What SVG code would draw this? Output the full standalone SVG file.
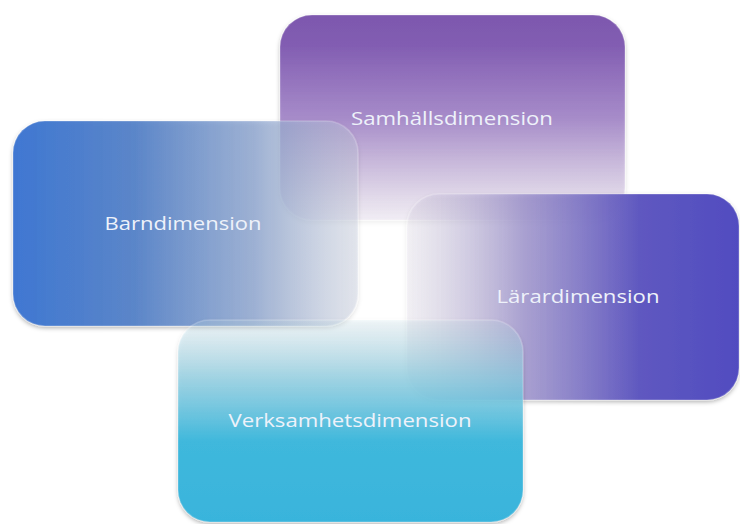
<svg xmlns="http://www.w3.org/2000/svg" width="740" height="524" viewBox="0 0 740 524">
<defs>
<linearGradient id="gSam" x1="0" y1="0" x2="0" y2="1">
<stop offset="0" stop-color="#7d58ae" stop-opacity="1"/>
<stop offset="0.15" stop-color="#825db2" stop-opacity="1"/>
<stop offset="0.5" stop-color="#9e7fc6" stop-opacity="0.85"/>
<stop offset="1" stop-color="#c9b4de" stop-opacity="0.15"/>
</linearGradient>
<linearGradient id="gBarn" x1="0" y1="0" x2="1" y2="0">
<stop offset="0" stop-color="#3f77d2" stop-opacity="1"/>
<stop offset="0.35" stop-color="#5582c8" stop-opacity="0.95"/>
<stop offset="0.7" stop-color="#8aa3cf" stop-opacity="0.75"/>
<stop offset="1" stop-color="#c9d0e2" stop-opacity="0.35"/>
</linearGradient>
<linearGradient id="gLar" x1="0" y1="0" x2="1" y2="0">
<stop offset="0" stop-color="#d9d2e6" stop-opacity="0.2"/>
<stop offset="0.35" stop-color="#9a8fcc" stop-opacity="0.75"/>
<stop offset="0.7" stop-color="#5f58c0" stop-opacity="1"/>
<stop offset="1" stop-color="#514cc0" stop-opacity="1"/>
</linearGradient>
<linearGradient id="gVerk" x1="0" y1="0" x2="0" y2="1">
<stop offset="0" stop-color="#c5e3ee" stop-opacity="0.2"/>
<stop offset="0.3" stop-color="#88cde2" stop-opacity="0.75"/>
<stop offset="0.6" stop-color="#3fb8dc" stop-opacity="1"/>
<stop offset="1" stop-color="#39b4dc" stop-opacity="1"/>
</linearGradient>
<filter id="sh" x="-10%" y="-10%" width="120%" height="125%">
<feDropShadow dx="0" dy="2" stdDeviation="2" flood-color="#000" flood-opacity="0.3"/>
</filter>
</defs>
<style>
.box{stroke:#ffffff;stroke-opacity:0.2;stroke-width:1.5;filter:url(#sh)}
.lbl{font-family:"Open Sans","Noto Sans","DejaVu Sans",sans-serif;font-size:18px;fill:#eef2fa;text-anchor:middle}
</style>
<rect width="740" height="524" fill="#ffffff"/>
<g id="samhall">
<rect class="box" x="280" y="15" width="345" height="205" rx="32" fill="url(#gSam)"/>
<text class="lbl" x="452" y="125" textLength="202" lengthAdjust="spacingAndGlyphs">Samhällsdimension</text>
</g>
<g id="barn">
<rect class="box" x="13" y="121" width="345" height="205" rx="32" fill="url(#gBarn)"/>
<text class="lbl" x="183" y="230" textLength="157" lengthAdjust="spacingAndGlyphs">Barndimension</text>
</g>
<g id="larar">
<rect class="box" x="407" y="194" width="332" height="206" rx="32" fill="url(#gLar)"/>
<text class="lbl" x="578" y="303" textLength="163" lengthAdjust="spacingAndGlyphs">Lärardimension</text>
</g>
<g id="verk">
<rect class="box" x="178" y="320" width="345" height="202" rx="32" fill="url(#gVerk)"/>
<text class="lbl" x="350" y="427" textLength="243" lengthAdjust="spacingAndGlyphs">Verksamhetsdimension</text>
</g>
<g id="connectors"/>
</svg>
